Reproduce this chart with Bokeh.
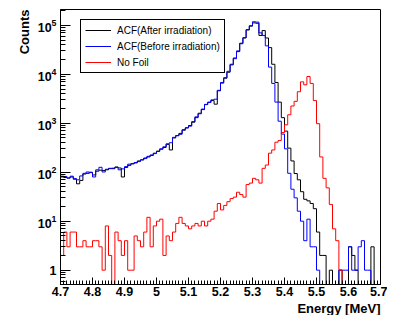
import numpy as np
from bokeh.plotting import figure
from bokeh.models import (FixedTicker, LogTickFormatter, CustomJSTickFormatter,
                          Legend, LegendItem, Title, Range1d)
from bokeh.embed import file_html
from bokeh.resources import INLINE

# ---------------- data (counts per 0.01 MeV bin, 4.70 -> 5.70 MeV) ----------------
bin_low = 4.70
bin_width = 0.01

acf_after = [
    80, 78, 76, 80, 72, 58, 68, 92, 95, 100,
    88, 105, 110, 108, 112, 120, 118, 128, 122, 80,
    125, 138, 148, 155, 170, 178, 195, 205, 220, 245,
    270, 295, 320, 370, 285, 500, 560, 620, 720, 810,
    900, 1050, 1300, 1600, 1900, 2400, 2700, 2900, 2450, 4600,
    6600, 8300, 11000, 16000, 21500, 29000, 43000, 55000, 80000, 96000,
    112000, 110000, 62000, 78000, 55000, 35000, 16000, 6800, 2700, 1300,
    690, 310, 170, 94, 70, 40, 28, 26, 23, 18,
    6, 2, 2, 0, 1, 0, 0, 1, 0, 0,
    3, 2, 1, 0, 0, 0, 0, 3, 0, 0,
]

acf_before = [
    83, 82, 76, 83, 74, 70, 84, 95, 101, 98,
    80, 112, 126, 101, 115, 118, 121, 125, 112, 117,
    130, 146, 150, 158, 165, 180, 190, 211, 225, 240,
    265, 300, 330, 380, 400, 515, 555, 595, 740, 800,
    870, 1080, 1350, 1560, 1950, 2430, 2650, 3000, 3100, 4700,
    6800, 8500, 11500, 15500, 20800, 30000, 42000, 56000, 82000, 98000,
    118000, 116000, 70000, 62000, 38000, 14000, 6500, 2700, 1100, 600,
    300, 95, 45, 30, 16, 10, 4, 11, 3, 3,
    1, 0, 0, 0, 0, 0, 0, 1, 1, 1,
    3, 1, 1, 3, 4, 1, 1, 0, 0, 0,
]

no_foil = [
    2, 6, 3, 6, 6, 3, 3, 4, 3, 3,
    4, 4, 3, 1, 8, 2, 0, 6, 4, 2,
    4, 1, 1, 5, 4, 3, 6, 12, 3, 8,
    10, 11, 2, 5, 4, 6, 9, 12, 9, 8,
    7, 8, 9, 8, 10, 8, 10, 11, 16, 23,
    17, 21, 25, 29, 31, 39, 35, 31, 56, 60,
    75, 70, 60, 120, 140, 245, 285, 410, 445, 645,
    930, 1490, 2250, 2800, 4400, 7000, 6100, 9000, 6500, 2900,
    980, 205, 75, 48, 22, 7, 4, 1, 0, 0,
    0, 0, 0, 0, 0, 0, 0, 0, 0, 0,
]

series_labels = ["ACF(After irradiation)", "ACF(Before irradiation)", "No Foil"]
series_colors = ["black", "#0000ff", "#ff0000"]

x_tick_labels = ["4.7", "4.8", "4.9", "5", "5.1", "5.2", "5.3", "5.4", "5.5", "5.6", "5.7"]
y_tick_values = [1, 10, 100, 1000, 10000, 100000]

# ---------------- figure ----------------
FONT = "Liberation Sans"
X0, X1 = 4.7, 5.7
Y0, Y1 = 0.51, 2.1e5

p = figure(width=387, height=315, title=None,
           y_axis_type="log",
           x_range=Range1d(X0, X1), y_range=Range1d(Y0, Y1),
           output_backend="svg", toolbar_location=None,
           min_border_left=60, min_border_right=7,
           min_border_top=9, min_border_bottom=26)

p.xgrid.visible = False
p.ygrid.visible = False
p.outline_line_color = "black"
p.outline_line_alpha = 1.0
p.background_fill_color = "white"
p.border_fill_color = "white"

edges = bin_low + bin_width * np.arange(len(acf_after) + 1)


def step_vals(v):
    a = np.asarray(v, dtype=float)
    a = np.where(a > 0, a, 0.05)  # empty bins fall below the axis (log scale)
    return np.append(a, a[-1])


renderers = []
for vals, col in zip([acf_after, acf_before, no_foil], series_colors):
    r = p.step(edges, step_vals(vals), mode="after", line_color=col, line_width=1)
    renderers.append(r)

# ---------------- axes ----------------
xt = [float(s) for s in x_tick_labels]
x_minor = [round(bin_low + bin_width * k, 2) for k in range(len(acf_after) + 1)]
p.xaxis.ticker = FixedTicker(ticks=xt, minor_ticks=x_minor)
p.xaxis.formatter = CustomJSTickFormatter(code="return String(Number(tick.toFixed(2)));")

y_minor = []
for d in [0.1, 1, 10, 100, 1000, 10000, 100000]:
    for m in range(2, 10):
        y_minor.append(d * m)
p.yaxis.ticker = FixedTicker(ticks=y_tick_values, minor_ticks=y_minor)
p.yaxis.formatter = LogTickFormatter(min_exponent=1)

for ax in (p.xaxis[0], p.yaxis[0]):
    ax.major_tick_out = 0
    ax.minor_tick_out = 0
    ax.axis_line_color = "black"
    ax.major_tick_line_color = "black"
    ax.minor_tick_line_color = "black"
    ax.major_label_text_font = FONT
    ax.major_label_text_font_style = "bold"
    ax.major_label_text_font_size = "12.5px"
    ax.major_label_text_color = "black"

p.xaxis.major_tick_in = 7
p.xaxis.minor_tick_in = 4
p.xaxis.major_label_standoff = 2
p.yaxis.major_tick_in = 10
p.yaxis.minor_tick_in = 5
p.yaxis.major_label_standoff = 4

# axis titles (ROOT style: at the far ends of the axes)
p.add_layout(Title(text="Counts", align="right", text_font=FONT, text_font_style="bold",
                   text_font_size="13px", text_color="black", standoff=6), "left")
p.add_layout(Title(text="Energy [MeV]", align="right", text_font=FONT, text_font_style="bold",
                   text_font_size="13px", text_color="black", standoff=0), "below")

# ---------------- legend ----------------
items = [LegendItem(label=lab, renderers=[r]) for lab, r in zip(series_labels, renderers)]
legend = Legend(items=items, location=(20, 211),
                label_text_font=FONT, label_text_font_size="10px",
                label_text_color="black",
                glyph_width=26, glyph_height=12, label_height=12,
                spacing=4, padding=4, label_standoff=6, margin=0,
                border_line_color="black", border_line_width=1, border_line_alpha=1.0,
                background_fill_color="white", background_fill_alpha=1.0)
p.add_layout(legend)

open("out.html", "w").write(file_html(p, INLINE))
